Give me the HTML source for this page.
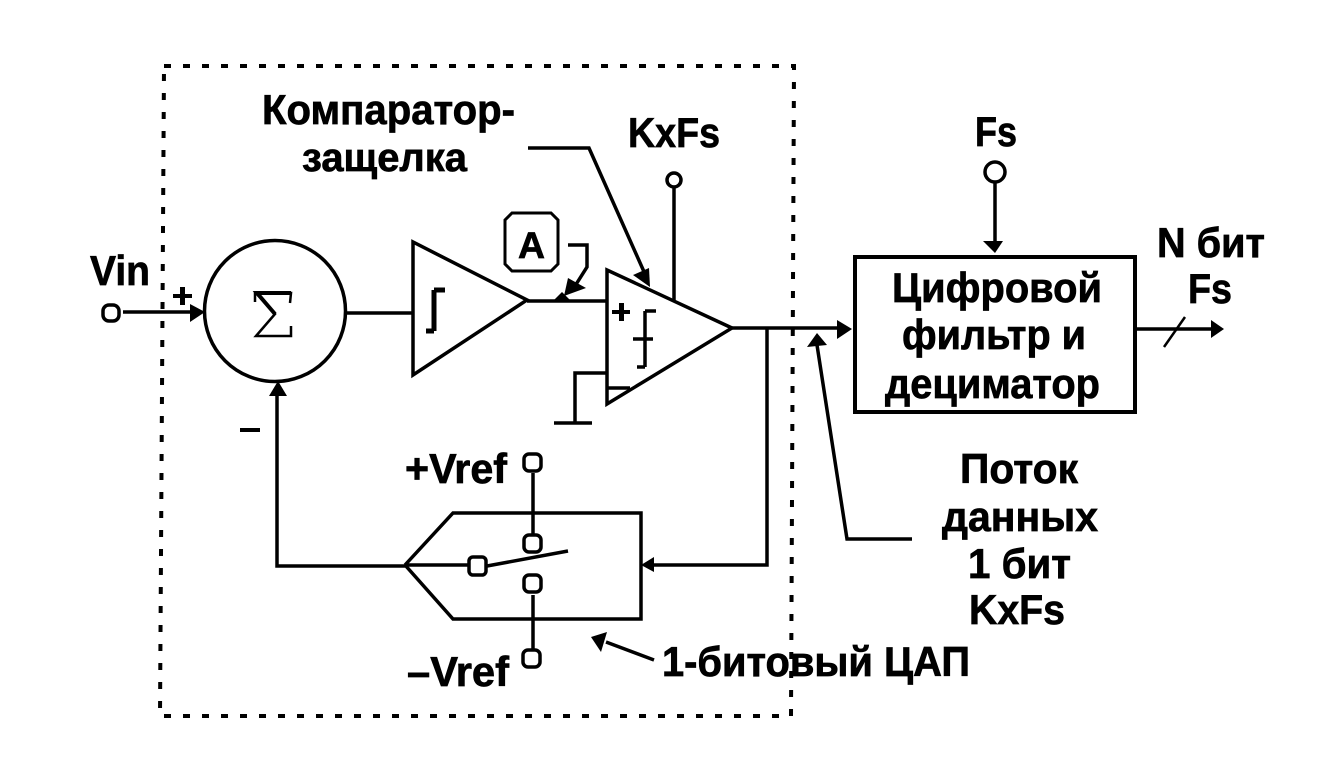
<!DOCTYPE html>
<html><head><meta charset="utf-8"><style>
html,body{margin:0;padding:0;background:#fff}
svg{display:block}
text{font-family:"Liberation Sans",sans-serif;font-weight:bold;fill:#000;stroke:#000;stroke-width:.7px;font-size:42px}
</style></head><body>
<svg width="1320" height="760" viewBox="0 0 1320 760" xmlns="http://www.w3.org/2000/svg">
<rect width="1320" height="760" fill="#fff"/>
<g fill="none" stroke="#000" stroke-width="4">
<path d="M164 66H794L791 716H160Z" stroke-dasharray="7 12"/>
</g>
<g fill="none" stroke="#000" stroke-width="3.5">
<circle cx="275" cy="311" r="70.5"/>
<rect x="103" y="305" width="16" height="16" rx="6"/>
<path d="M123 312H192"/>
<path d="M347 313H413"/>
<path d="M413 242V375L527 300Z"/>
<path d="M527 301H607"/>
<path d="M607 270V404L732 328Z"/>
<path d="M732 328H840"/>
<path d="M767 328V565H650"/>
<path d="M277 394V566H405"/>
<path d="M405 565L453 513H641V619H453L405 565"/>
<path d="M405 565H468M487 566L568 551"/>
<rect x="469" y="557" width="17" height="18" rx="4"/>
<rect x="524" y="454" width="17" height="17" rx="5"/>
<rect x="524" y="535" width="17" height="17" rx="5"/>
<rect x="524" y="575" width="17" height="17" rx="5"/>
<rect x="523" y="650" width="17" height="17" rx="5"/>
<path d="M533 473V535M533 595V650"/>
<circle cx="674" cy="180" r="7"/><path d="M674 187V302"/>
<path d="M607 373H575V423M554 423H592"/>
<path d="M607 388H630"/>
<circle cx="995" cy="172" r="10"/><path d="M995 182V245"/>
<rect x="855" y="257" width="280" height="155" stroke-width="4"/>
<path d="M1135 329H1212"/>
<path d="M1164 347L1185 317" stroke-width="2.5"/>
<path d="M528 148H589L645 274"/>
<path d="M817 345L847 539H912"/>
<path d="M606 642L654 660"/>
<path d="M512 213H551L558 220V264L551 271H512L505 264V220Z" stroke-width="3"/>
<path d="M568 245H587V267L575 286"/>
<path d="M434 290H445M434 290V331M434 331H426" stroke-width="5"/>
<path d="M645 311H656M645 311V367M645 367H637M633 339H653"/>
<path d="M255 302V293H291L290 303M291 326V336H256L275 314L256 293" stroke-width="2.5"/>
</g>
<path d="M291 293H257L275 314" fill="none" stroke="#000" stroke-width="4"/>
<g fill="#000">
<path d="M205 312L190 304V322Z"/>
<path d="M278 381L269 396H287Z"/>
<path d="M852 329L837 320V339Z"/>
<path d="M1224 329L1211 320V338Z"/>
<path d="M995 253L983 241H1003Z"/>
<path d="M641 565L654 557V572Z"/>
<path d="M650 287L633 275L649 268Z"/>
<path d="M817 333L807 347L827 345Z"/>
<path d="M591 637L607 632L601 652Z"/>
<path d="M564 296L568 278L586 288Z"/>
<path d="M554 300L562 292L570 300Z"/>
<rect x="173" y="294" width="19" height="4"/><rect x="180" y="287" width="5" height="18"/>
<rect x="240" y="428" width="20" height="4"/>
<rect x="612" y="310" width="18" height="4"/><rect x="619" y="303" width="5" height="18"/>
</g>
<text x="90" y="285" textLength="60" lengthAdjust="spacingAndGlyphs">Vin</text>
<text x="262" y="124" textLength="253" lengthAdjust="spacingAndGlyphs">Компаратор-</text>
<text x="302" y="171" textLength="165" lengthAdjust="spacingAndGlyphs" style="font-size:40px">защелка</text>
<text x="628" y="147" textLength="92" lengthAdjust="spacingAndGlyphs">KxFs</text>
<text x="975" y="146" textLength="42" lengthAdjust="spacingAndGlyphs">Fs</text>
<text x="1157" y="257" textLength="108" lengthAdjust="spacingAndGlyphs">N бит</text>
<text x="1188" y="303" textLength="44" lengthAdjust="spacingAndGlyphs">Fs</text>
<text x="518" y="258" textLength="27" lengthAdjust="spacingAndGlyphs" style="font-size:37px">A</text>
<text x="892" y="302" textLength="210" lengthAdjust="spacingAndGlyphs">Цифровой</text>
<text x="902" y="349" textLength="184" lengthAdjust="spacingAndGlyphs">фильтр и</text>
<text x="885" y="398" textLength="215" lengthAdjust="spacingAndGlyphs">дециматор</text>
<text x="960" y="483" textLength="118" lengthAdjust="spacingAndGlyphs">Поток</text>
<text x="942" y="531" textLength="156" lengthAdjust="spacingAndGlyphs">данных</text>
<text x="968" y="578" textLength="103" lengthAdjust="spacingAndGlyphs">1 бит</text>
<text x="969" y="624" textLength="96" lengthAdjust="spacingAndGlyphs">KxFs</text>
<text x="405" y="483" textLength="102" lengthAdjust="spacingAndGlyphs">+Vref</text>
<text x="407" y="686" textLength="102" lengthAdjust="spacingAndGlyphs">–Vref</text>
<text x="662" y="676" textLength="308" lengthAdjust="spacingAndGlyphs">1-битовый ЦАП</text>
</svg>
</body></html>
